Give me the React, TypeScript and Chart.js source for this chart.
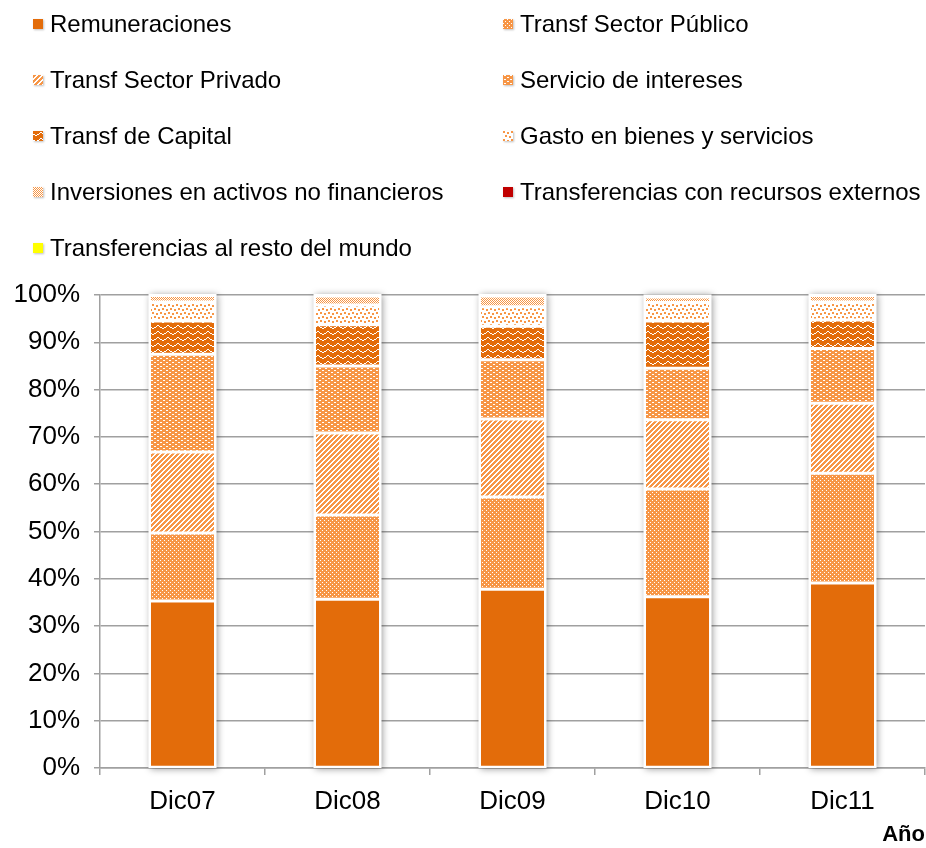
import React, { useEffect, useRef, useState } from 'react';
import { Chart, registerables } from 'chart.js';
Chart.register(...registerables);

const categories = ['Dic07', 'Dic08', 'Dic09', 'Dic10', 'Dic11'];
const seriesNames = [
  'Remuneraciones',
  'Transf Sector Público',
  'Transf Sector Privado',
  'Servicio de intereses',
  'Transf de Capital',
  'Gasto en bienes y servicios',
  'Inversiones en activos no financieros',
  'Transferencias con recursos externos',
  'Transferencias al resto del mundo',
];
const remuneraciones = [35.3, 35.7, 37.8, 36.2, 39.1];
const transfSectorPublico = [14.4, 17.8, 19.5, 22.8, 23.2];
const transfSectorPrivado = [17.1, 17.3, 16.5, 14.6, 14.8];
const servicioIntereses = [20.7, 14.2, 12.5, 10.9, 11.6];
const transfCapital = [7.0, 8.7, 7.1, 10.0, 6.0];
const gastoBienesServicios = [4.0, 4.2, 4.1, 3.9, 3.8];
const inversionesActivos = [1.4, 1.9, 2.3, 1.2, 1.4];
const transfRecursosExternos = [0.1, 0.1, 0.1, 0.2, 0.1];
const transfRestoMundo = [0.0, 0.1, 0.1, 0.1, 0.0];
const yTickValues = [0, 10, 20, 30, 40, 50, 60, 70, 80, 90, 100];
const xTitle = 'Año';

const seriesData = [
  remuneraciones,
  transfSectorPublico,
  transfSectorPrivado,
  servicioIntereses,
  transfCapital,
  gastoBienesServicios,
  inversionesActivos,
  transfRecursosExternos,
  transfRestoMundo,
];

const DARK = '#E36C0A';
const LIGHT = '#F79646';
const FONT = "'Liberation Sans', Arial, sans-serif";

function tile(w: number, h: number, draw: (g: CanvasRenderingContext2D) => void) {
  const c = document.createElement('canvas');
  c.width = w;
  c.height = h;
  const g = c.getContext('2d')!;
  draw(g);
  return c;
}

function makeTiles(): HTMLCanvasElement[] {
  const solid = (col: string) => tile(4, 4, (g) => { g.fillStyle = col; g.fillRect(0, 0, 4, 4); });
  const dots = tile(4, 4, (g) => {
    g.fillStyle = LIGHT; g.fillRect(0, 0, 4, 4);
    g.fillStyle = '#fff'; g.fillRect(0, 0, 1, 1); g.fillRect(2, 2, 1, 1);
  });
  const stripes = tile(5, 5, (g) => {
    g.fillStyle = '#fff'; g.fillRect(0, 0, 5, 5);
    g.fillStyle = LIGHT;
    for (let x = 0; x < 5; x++) for (let y = 0; y < 5; y++) {
      if ((x + y) % 5 < 3) g.fillRect(x, y, 1, 1);
    }
  });
  const bricks = tile(6, 4, (g) => {
    g.fillStyle = LIGHT; g.fillRect(0, 0, 6, 4);
    g.fillStyle = '#fff'; g.fillRect(1, 0, 2, 1); g.fillRect(4, 2, 2, 1);
  });
  const wave = tile(10, 6, (g) => {
    g.fillStyle = DARK; g.fillRect(0, 0, 10, 6);
    g.fillStyle = '#fff';
    for (let x = 0; x < 10; x++) {
      const y = Math.round(2.5 + 1.6 * Math.sin((2 * Math.PI * x) / 10));
      g.fillRect(x, y, 1, 1);
    }
  });
  const confetti = tile(8, 8, (g) => {
    g.fillStyle = '#fff'; g.fillRect(0, 0, 8, 8);
    g.fillStyle = LIGHT;
    g.fillRect(0, 0, 2, 2); g.fillRect(4, 1, 2, 2); g.fillRect(2, 4, 2, 2); g.fillRect(6, 5, 2, 2);
  });
  const checker = tile(2, 2, (g) => {
    g.fillStyle = '#fff'; g.fillRect(0, 0, 2, 2);
    g.fillStyle = LIGHT; g.fillRect(0, 0, 1, 1); g.fillRect(1, 1, 1, 1);
  });
  return [solid(DARK), dots, stripes, bricks, wave, confetti, checker, solid('#C00000'), solid('#FFFF00')];
}

const shadowPlugin = {
  id: 'barShadow',
  beforeDatasetsDraw(chart: any) {
    const meta = chart.getDatasetMeta(0);
    const y = chart.scales.y;
    const ctx = chart.ctx;
    ctx.save();
    meta.data.forEach((bar: any, i: number) => {
      let total = 0;
      chart.data.datasets.forEach((d: any) => { total += d.data[i] || 0; });
      const top = y.getPixelForValue(total);
      const bottom = y.getPixelForValue(0);
      const w = bar.width;
      ctx.shadowColor = 'rgba(0,0,0,0.4)';
      ctx.shadowBlur = 7;
      ctx.shadowOffsetX = 1;
      ctx.shadowOffsetY = 1;
      ctx.fillStyle = '#fff';
      ctx.fillRect(bar.x - w / 2 - 1, top - 1, w + 2, bottom - top + 1);
    });
    ctx.restore();
  },
};

export default function App() {
  const ref = useRef<HTMLCanvasElement>(null);
  const [tiles] = useState<HTMLCanvasElement[]>(() => makeTiles());

  useEffect(() => {
    document.body.style.margin = '0';
    const canvas = ref.current!;
    const ctx = canvas.getContext('2d')!;
    const datasets = seriesNames.map((name, i) => ({
      label: name,
      data: seriesData[i],
      backgroundColor: ctx.createPattern(tiles[i], 'repeat') as any,
      borderColor: '#ffffff',
      borderWidth: 1.5,
      borderSkipped: false as any,
      barPercentage: 0.4,
      categoryPercentage: 1,
    }));
    const chart = new Chart(canvas, {
      type: 'bar',
      data: { labels: categories, datasets },
      plugins: [shadowPlugin],
      options: {
        responsive: false,
        maintainAspectRatio: false,
        animation: false,
        layout: { padding: { top: 295, right: 1, bottom: 0, left: 0 } },
        plugins: { legend: { display: false }, tooltip: { enabled: false } },
        scales: {
          x: {
            stacked: true,
            grid: { drawOnChartArea: false, drawTicks: true, tickLength: 7, color: '#a0a0a0', lineWidth: 1.5, offset: true },
            border: { color: '#a0a0a0', width: 1.5 },
            ticks: { color: '#000', font: { family: FONT, size: 26 }, padding: 11 },
            title: { display: true, text: xTitle, align: 'end', color: '#000', font: { family: FONT, size: 22, weight: 'bold' }, padding: 0 },
            afterFit: (s: any) => { s.height = 80; },
          } as any,
          y: {
            stacked: true,
            min: 0,
            max: 100,
            afterBuildTicks: (s: any) => { s.ticks = yTickValues.map((v) => ({ value: v })); },
            ticks: { color: '#000', font: { family: FONT, size: 26 }, padding: 14, callback: (v: any) => v + '%' },
            grid: { color: '#a0a0a0', lineWidth: 1.5, tickLength: 6 },
            border: { color: '#a0a0a0', width: 1.5 },
            afterFit: (s: any) => { s.width = 100; },
          } as any,
        },
      },
    });
    return () => chart.destroy();
  }, [tiles]);

  return (
    <div style={{ position: 'relative', width: 926, height: 848, background: '#fff', overflow: 'hidden' }}>
      <canvas ref={ref} width={926} height={848} style={{ display: 'block', position: 'absolute', left: 0, top: 0 }} />
      {seriesNames.map((name, i) => {
        const col = i % 2;
        const row = Math.floor(i / 2);
        const cy = 24 + 56 * row;
        const mx = col === 0 ? 33 : 503;
        const tx = col === 0 ? 50 : 520;
        return (
          <React.Fragment key={name}>
            <div
              style={{
                position: 'absolute', left: mx, top: cy - 5, width: 10, height: 10,
                backgroundImage: `url(${tiles[i].toDataURL()})`,
                boxShadow: '1px 1px 2px rgba(0,0,0,0.25)',
              }}
            />
            <div
              style={{
                position: 'absolute', left: tx, top: cy - 14, height: 28, lineHeight: '28px',
                fontFamily: FONT, fontSize: 24, color: '#000', whiteSpace: 'nowrap',
              }}
            >
              {name}
            </div>
          </React.Fragment>
        );
      })}
    </div>
  );
}
